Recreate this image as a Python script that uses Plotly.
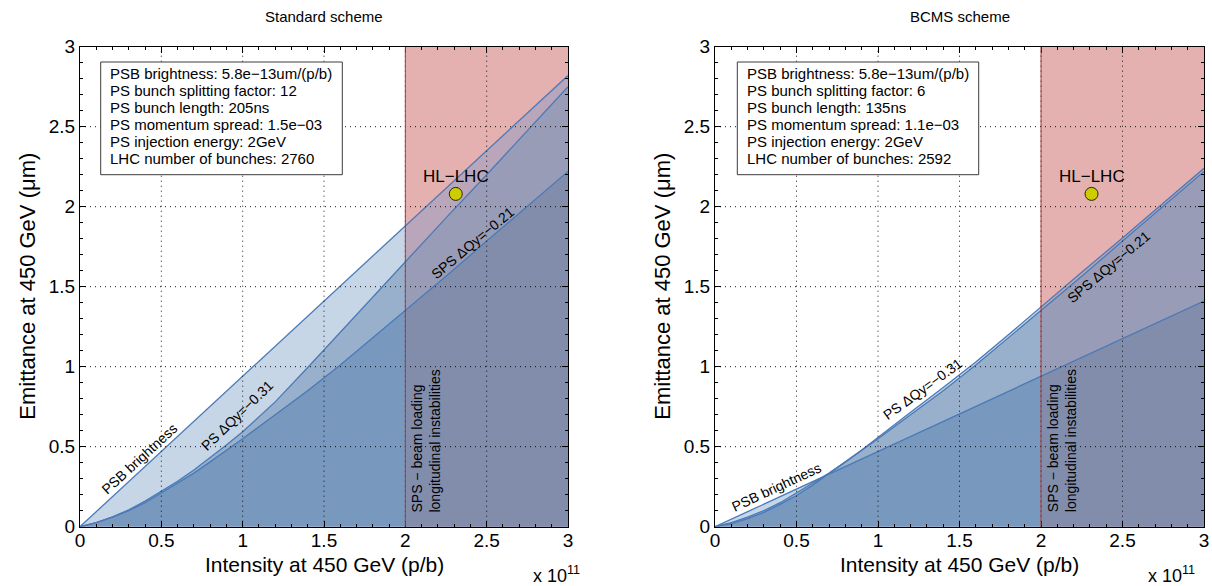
import numpy as np
import plotly.graph_objects as go

# ---------------- data (intensity in units of 1e11 p/b, emittance in um) ----------------
# PSB brightness limits (straight lines)
psb_x = [0, 3.0]
std_psb = [0, 2.82]
bcms_psb = [0, 1.41]

# space-charge limits
sc_x = [0, 0.1, 0.2, 0.3, 0.4, 0.5, 0.6, 0.7, 0.8, 0.9, 1.0, 1.2, 1.4, 1.6, 1.8, 2.0, 2.25, 2.5, 2.75, 3.0]
std_ps = [0, 0.025, 0.062, 0.105, 0.16, 0.22, 0.284, 0.354, 0.43, 0.51, 0.593, 0.78, 0.995, 1.215,
          1.437, 1.66, 1.93, 2.20, 2.475, 2.75]
bcms_ps = [0, 0.02, 0.05, 0.09, 0.14, 0.195, 0.26, 0.33, 0.405, 0.48, 0.56, 0.715, 0.87, 1.03,
           1.20, 1.375, 1.59, 1.805, 2.02, 2.24]
sps_sc = [0, 0.025, 0.06, 0.10, 0.15, 0.21, 0.27, 0.335, 0.405, 0.475, 0.55, 0.70, 0.85, 1.01,
          1.18, 1.35, 1.565, 1.785, 2.0, 2.22]

hl_lhc_x = [2.31]
hl_lhc_y = [2.08]
sps_limit_x = 2.0

x_ticks = [0, 0.5, 1, 1.5, 2, 2.5, 3]
y_ticks = [0, 0.5, 1, 1.5, 2, 2.5, 3]

std_info = ["PSB brightness: 5.8e\u221213um/(p/b)", "PS bunch splitting factor: 12",
            "PS bunch length: 205ns", "PS momentum spread: 1.5e\u221203",
            "PS injection energy: 2GeV", "LHC number of bunches: 2760"]
bcms_info = ["PSB brightness: 5.8e\u221213um/(p/b)", "PS bunch splitting factor: 6",
             "PS bunch length: 135ns", "PS momentum spread: 1.1e\u221203",
             "PS injection energy: 2GeV", "LHC number of bunches: 2592"]

# ---------------- styling ----------------
FONT = "Liberation Sans, Arial, Helvetica, sans-serif"
LINE = "rgb(74,122,184)"
ZONE_WHITE = ["rgb(198,214,230)", "rgb(152,176,203)", "rgb(120,152,190)"]
ZONE_RED = ["rgb(186,166,186)", "rgb(152,156,182)", "rgb(130,141,172)"]
PINK = "rgb(228,176,176)"

W, H = 1212, 586
dom_y = [59.3 / H, 539.3 / H]
panels = [
    dict(xa="x", ya="y", dom=[80 / W, 568 / W],
         curves=[(psb_x, std_psb), (sc_x, std_ps), (sc_x, sps_sc)],
         title="Standard scheme", info=std_info, box=(100.7, 62, 342.3, 174.7),
         labels=[("PSB brightness", 0.363, 0.425, -42.5),
                 ("PS \u0394Qy=\u22120.31", 0.968, 0.70, -44),
                 ("SPS \u0394Qy=\u22120.21", 2.412, 1.775, -40)]),
    dict(xa="x2", ya="y2", dom=[715 / W, 1204 / W],
         curves=[(psb_x, bcms_psb), (sc_x, bcms_ps), (sc_x, sps_sc)],
         title="BCMS scheme", info=bcms_info, box=(737.3, 62, 978.7, 174.7),
         labels=[("PSB brightness", 0.377, 0.25, -25),
                 ("PS \u0394Qy=\u22120.31", 1.274, 0.86, -36),
                 ("SPS \u0394Qy=\u22120.21", 2.413, 1.625, -40)]),
]

fig = go.Figure()
xf = np.linspace(0, 3, 1201)

for p in panels:
    stack = np.vstack([np.interp(xf, cx, cy) for cx, cy in p["curves"]])
    env = np.sort(stack, axis=0)[::-1]  # top, middle, bottom envelopes
    for zone_mask, colors in [(xf <= sps_limit_x, ZONE_WHITE), (xf >= sps_limit_x, ZONE_RED)]:
        for k in range(3):
            fig.add_trace(go.Scatter(x=xf[zone_mask], y=env[k][zone_mask], mode="lines",
                                     line=dict(width=0), fill="tozeroy", fillcolor=colors[k],
                                     hoverinfo="skip", showlegend=False,
                                     xaxis=p["xa"], yaxis=p["ya"]))
    for cx, cy in p["curves"]:
        fig.add_trace(go.Scatter(x=cx, y=cy, mode="lines", line=dict(color=LINE, width=1.3),
                                 showlegend=False, xaxis=p["xa"], yaxis=p["ya"]))
    fig.add_trace(go.Scatter(x=hl_lhc_x, y=hl_lhc_y, mode="markers",
                             marker=dict(size=13, color="rgb(204,204,0)",
                                         line=dict(color="rgb(40,40,0)", width=1)),
                             showlegend=False, xaxis=p["xa"], yaxis=p["ya"]))

shapes = []
annotations = []
GRID = dict(color="rgba(0,0,0,0.9)", width=1, dash="1px,4px")
for p in panels:
    xr, yr = p["xa"], p["ya"]
    shapes.append(dict(type="rect", xref=xr, yref=yr, x0=sps_limit_x, x1=3, y0=0, y1=3,
                       fillcolor=PINK, line=dict(width=0), layer="below"))
    for t in x_ticks[1:-1]:
        shapes.append(dict(type="line", xref=xr, yref=yr, x0=t, x1=t, y0=0, y1=3,
                           line=GRID, layer="above"))
    for t in y_ticks[1:-1]:
        shapes.append(dict(type="line", xref=xr, yref=yr, x0=0, x1=3, y0=t, y1=t,
                           line=GRID, layer="above"))
    shapes.append(dict(type="line", xref=xr, yref=yr, x0=sps_limit_x, x1=sps_limit_x, y0=0, y1=3,
                       line=dict(color="rgb(170,60,60)", width=1), layer="above"))
    # info box
    bx0, by0, bx1, by1 = p["box"]
    shapes.append(dict(type="rect", xref="paper", yref="paper", x0=bx0 / W, x1=bx1 / W,
                       y0=1 - by1 / H, y1=1 - by0 / H, fillcolor="white",
                       line=dict(color="rgb(60,60,60)", width=1), layer="above"))
    for i, line_txt in enumerate(p["info"]):
        annotations.append(dict(xref="paper", yref="paper", x=(bx0 + 7.5) / W,
                                y=1 - (by0 + 11.5 + 17.1 * i) / H, xanchor="left", yanchor="middle",
                                text=line_txt, showarrow=False,
                                font=dict(size=15, family=FONT, color="black")))
    # curve labels
    for txt, lx, ly, ang in p["labels"]:
        annotations.append(dict(xref=xr, yref=yr, x=lx, y=ly, text=txt, textangle=ang,
                                xanchor="center", yanchor="middle",
                                showarrow=False, font=dict(size=14, family=FONT, color="black")))
    annotations.append(dict(xref=xr, yref=yr, x=hl_lhc_x[0], y=hl_lhc_y[0], yshift=17,
                            xanchor="center", yanchor="middle",
                            text="HL\u2212LHC", showarrow=False,
                            font=dict(size=17, family=FONT, color="black")))
    annotations.append(dict(xref=xr, yref=yr, x=sps_limit_x, y=0, xanchor="left", yanchor="bottom",
                            xshift=2, yshift=12, textangle=-90, align="left",
                            text="SPS \u2212 beam loading<br>longitudinal instabilities",
                            showarrow=False, font=dict(size=14, family=FONT, color="black")))
    cx = (p["dom"][0] + p["dom"][1]) / 2
    annotations.append(dict(xref="paper", yref="paper", x=cx, y=1 - 17 / H, text=p["title"],
                            xanchor="center", yanchor="middle",
                            showarrow=False, font=dict(size=15, family=FONT, color="black")))
    annotations.append(dict(xref="paper", yref="paper", x=cx, y=1 - 564 / H,
                            xanchor="center", yanchor="middle",
                            text="Intensity at 450 GeV (p/b)", showarrow=False,
                            font=dict(size=21, family=FONT, color="black")))
    annotations.append(dict(xref="paper", yref="paper", x=p["dom"][0] - 52 / W,
                            y=(dom_y[0] + dom_y[1]) / 2, xanchor="center", yanchor="middle",
                            text="Emittance at 450 GeV (\u03bcm)", textangle=-90, showarrow=False,
                            font=dict(size=22, family=FONT, color="black")))

for ex in [556, 1171]:
    annotations.append(dict(xref="paper", yref="paper", x=ex / W, y=1 - 574 / H,
                            xanchor="center", yanchor="middle",
                            text="x 10<sup>11</sup>", showarrow=False,
                            font=dict(size=18, family=FONT, color="black")))

axis_common = dict(range=[0, 3], tickmode="array", showgrid=False, zeroline=False,
                   showline=True, linecolor="black", linewidth=1, mirror="allticks",
                   ticks="inside", ticklen=6, tickcolor="black", layer="above traces",
                   minor=dict(ticks="inside", ticklen=3, dtick=0.1, tick0=0, tickcolor="black"),
                   tickfont=dict(size=19, family=FONT, color="black"), automargin=False,
                   fixedrange=True)

fig.update_layout(
    width=W, height=H, margin=dict(l=0, r=0, t=0, b=0),
    paper_bgcolor="white", plot_bgcolor="white", showlegend=False,
    xaxis=dict(domain=panels[0]["dom"], anchor="y", tickvals=x_ticks, ticklabelstandoff=-4, **axis_common),
    yaxis=dict(domain=dom_y, anchor="x", tickvals=y_ticks, **axis_common),
    xaxis2=dict(domain=panels[1]["dom"], anchor="y2", tickvals=x_ticks, ticklabelstandoff=-4, **axis_common),
    yaxis2=dict(domain=dom_y, anchor="x2", tickvals=y_ticks, **axis_common),
    shapes=shapes, annotations=annotations,
)

fig.write_html("out.html")
